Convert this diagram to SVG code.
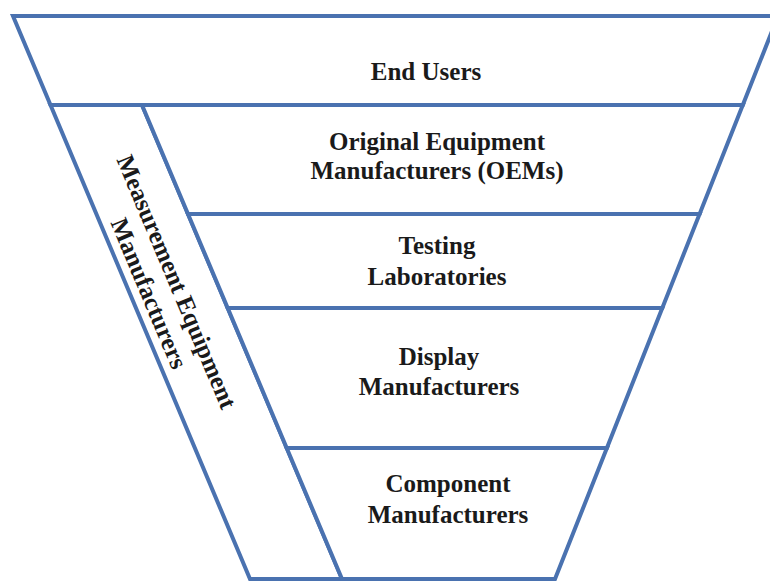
<svg xmlns="http://www.w3.org/2000/svg" width="770" height="582" viewBox="0 0 770 582">
<style>
.layer{fill:#ffffff;stroke:#4a72b0;stroke-width:4;stroke-linejoin:miter}
.lbl{font-family:"Liberation Serif","Times New Roman",serif;font-weight:bold;font-size:25px;fill:#1a1a1a;text-anchor:middle}
</style>
<rect width="770" height="582" fill="#ffffff"/>
<g id="end-users">
<polygon class="layer" points="13,16 778,16 742.8,105 50.5,105"/>
<text class="lbl" x="426" y="80">End Users</text>
</g>
<g id="measurement-equipment-manufacturers">
<polygon class="layer" points="50.5,105 142,105 342,579 250,579"/>
<g transform="translate(169,285) rotate(67.2)">
<text class="lbl" x="0" y="0">Measurement Equipment</text>
<text class="lbl" x="0" y="30">Manufacturers</text>
</g>
</g>
<g id="oems">
<polygon class="layer" points="142,105 742.8,105 699.6,214 188,214"/>
<text class="lbl" x="437" y="150">Original Equipment</text>
<text class="lbl" x="437" y="179">Manufacturers (OEMs)</text>
</g>
<g id="testing-laboratories">
<polygon class="layer" points="188,214 699.6,214 662.3,308 227.7,308"/>
<text class="lbl" x="437" y="254">Testing</text>
<text class="lbl" x="437" y="285">Laboratories</text>
</g>
<g id="display-manufacturers">
<polygon class="layer" points="227.7,308 662.3,308 606.9,448 286.7,448"/>
<text class="lbl" x="439" y="365">Display</text>
<text class="lbl" x="439" y="395">Manufacturers</text>
</g>
<g id="component-manufacturers">
<polygon class="layer" points="286.7,448 606.9,448 555,579 342,579"/>
<text class="lbl" x="448" y="492">Component</text>
<text class="lbl" x="448" y="523">Manufacturers</text>
</g>
<g id="connectors"></g>
</svg>
